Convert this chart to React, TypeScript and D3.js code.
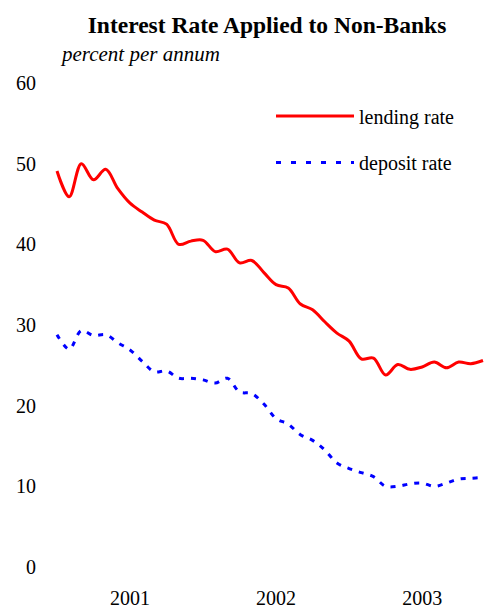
import React from "react";
import * as d3 from "d3";

const months: number[] = d3.range(36); // Jan 2001 .. Dec 2003
const lendingRate: number[] = [
  49.1, 45.9, 50.0, 48.0, 49.3, 46.9, 45.1, 44.0, 43.0, 42.5, 40.0, 40.4,
  40.5, 39.1, 39.4, 37.7, 38.0, 36.5, 35.0, 34.6, 32.6, 31.9, 30.4, 29.0,
  28.0, 25.8, 25.9, 23.8, 25.1, 24.5, 24.8, 25.4, 24.7, 25.4, 25.2, 25.6,
];
const depositRate: number[] = [
  28.8, 27.0, 29.3, 28.7, 28.8, 27.8, 26.9, 25.5, 24.2, 24.3, 23.4, 23.4,
  23.2, 22.8, 23.4, 21.7, 21.5, 20.2, 18.4, 17.7, 16.4, 15.7, 14.5, 12.9,
  12.2, 11.7, 11.2, 10.0, 10.0, 10.3, 10.4, 10.0, 10.4, 10.9, 11.0, 11.1,
];
const yTicks: number[] = [0, 10, 20, 30, 40, 50, 60];
const yearLabels: string[] = ["2001", "2002", "2003"];
const yearLabelMonth: number[] = [6, 18, 30];
const seriesNames: string[] = ["lending rate", "deposit rate"];

export default function App() {
  const W = 488;
  const H = 608;
  const x = d3.scaleLinear().domain([0, 35]).range([57, 483]);
  const y = d3.scaleLinear().domain([0, 60]).range([567, 83]);
  const line = d3
    .line<number>()
    .x((_, i) => x(months[i]))
    .y((d) => y(d))
    .curve(d3.curveCatmullRom.alpha(0.5));
  const font = "'Liberation Serif', 'Times New Roman', serif";

  return (
    <svg
      width={W}
      height={H}
      style={{ position: "absolute", left: 0, top: 0, background: "#fff" }}
      fontFamily={font}
    >
      <text x={267} y={33} textAnchor="middle" fontSize={23.5} fontWeight="bold">
        Interest Rate Applied to Non-Banks
      </text>
      <text x={62} y={61} fontSize={21} fontStyle="italic">
        percent per annum
      </text>
      {yTicks.map((t) => (
        <text key={t} x={36} y={y(t)} dy="0.35em" textAnchor="end" fontSize={20}>
          {t}
        </text>
      ))}
      {yearLabels.map((lab, i) => (
        <text key={lab} x={x(yearLabelMonth[i])} y={605} textAnchor="middle" fontSize={20}>
          {lab}
        </text>
      ))}
      <path d={line(lendingRate) || ""} fill="none" stroke="#ff0000" strokeWidth={3} />
      <path
        d={line(depositRate) || ""}
        fill="none"
        stroke="#0000ff"
        strokeWidth={3}
        strokeDasharray="5 7"
      />
      <line x1={276} x2={354} y1={116} y2={116} stroke="#ff0000" strokeWidth={3} />
      <text x={359} y={117} dy="0.35em" fontSize={20}>
        {seriesNames[0]}
      </text>
      <line
        x1={276}
        x2={354}
        y1={162.5}
        y2={162.5}
        stroke="#0000ff"
        strokeWidth={3}
        strokeDasharray="5 10"
      />
      <text x={359} y={163} dy="0.35em" fontSize={20}>
        {seriesNames[1]}
      </text>
    </svg>
  );
}
